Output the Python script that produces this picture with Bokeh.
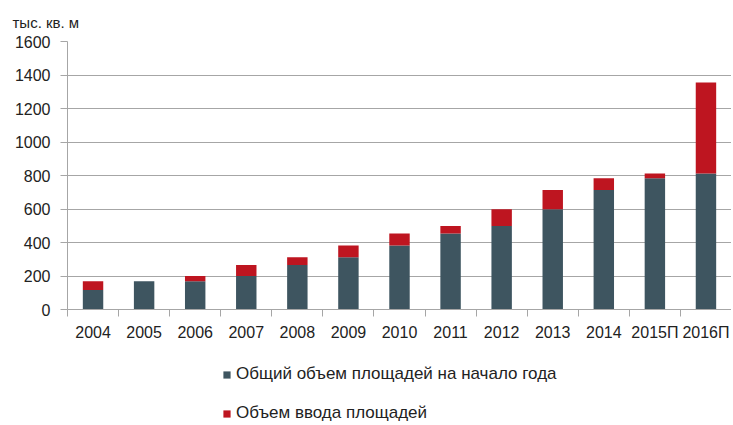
from bokeh.plotting import figure
from bokeh.layouts import column
from bokeh.models import FixedTicker, Legend, LegendItem, Range1d
from bokeh.embed import file_html
from bokeh.resources import INLINE

years = ["2004", "2005", "2006", "2007", "2008", "2009", "2010",
         "2011", "2012", "2013", "2014", "2015П", "2016П"]
base = [117, 169, 169, 200, 266, 312, 382, 454, 499, 599, 714, 784, 812]
added = [52, 0, 31, 66, 46, 70, 72, 45, 100, 115, 70, 28, 543]
y_ticks = [0, 200, 400, 600, 800, 1000, 1200, 1400, 1600]
series_names = ["Общий объем площадей на начало года", "Объем ввода площадей"]
unit_label = "тыс. кв. м"

DARK = "#3e5560"
RED = "#be1520"
GRID = "#a6a6a6"
FONT = "Liberation Sans"
TEXT = "#222222"

x = [i + 0.5 for i in range(len(years))]
total = [b + a for b, a in zip(base, added)]

p = figure(frame_width=664, frame_height=268, output_backend="svg", toolbar_location=None,
           x_range=Range1d(0, len(years)), y_range=Range1d(0, y_ticks[-1]),
           min_border_left=67, min_border_right=0, min_border_top=41,
           min_border_bottom=38)
p.outline_line_color = None

r1 = p.vbar(x=x, bottom=0, top=base, width=0.4, fill_color=DARK, line_color=None)
r2 = p.vbar(x=x, bottom=base, top=total, width=0.4, fill_color=RED, line_color=None)

p.title.text = unit_label
p.title.align = "left"
p.title.offset = -55
p.title.standoff = 18
p.title.vertical_align = "top"
p.title.text_font = FONT
p.title.text_font_size = "15px"
p.title.text_font_style = "normal"
p.title.text_color = TEXT

xa = p.xaxis[0]
xa.ticker = FixedTicker(ticks=x, minor_ticks=list(range(len(years) + 1)))
xa.major_label_overrides = {xi: y for xi, y in zip(x, years)}
xa.major_tick_line_color = None
xa.major_tick_out = 0
xa.major_tick_in = 0
xa.minor_tick_line_color = GRID
xa.minor_tick_out = 7
xa.minor_tick_in = 0
xa.axis_line_color = GRID
xa.major_label_standoff = 7
xa.major_label_text_font = FONT
xa.major_label_text_font_size = "16px"
xa.major_label_text_color = TEXT

ya = p.yaxis[0]
ya.ticker = FixedTicker(ticks=y_ticks)
ya.major_tick_line_color = GRID
ya.major_tick_out = 7
ya.major_tick_in = 0
ya.minor_tick_line_color = None
ya.axis_line_color = GRID
ya.major_label_standoff = 10
ya.major_label_text_font = FONT
ya.major_label_text_font_size = "16px"
ya.major_label_text_color = TEXT

p.xgrid.grid_line_color = None
p.ygrid.grid_line_color = GRID

# legend in its own strip below the chart; swatch renderers sit outside the view
lf = figure(width=731, height=76, output_backend="svg", toolbar_location=None,
            x_axis_location=None, y_axis_location=None,
            x_range=Range1d(-20, -19), y_range=Range1d(-20, -19),
            min_border=0)
lf.outline_line_color = None
lf.grid.grid_line_color = None
lr1 = lf.vbar(x=x[:1], top=base[:1], width=0.4, fill_color=DARK, line_color=None)
lr2 = lf.vbar(x=x[:1], top=total[:1], bottom=base[:1], width=0.4,
              fill_color=RED, line_color=None)

legend = Legend(items=[LegendItem(label=series_names[0], renderers=[lr1]),
                       LegendItem(label=series_names[1], renderers=[lr2])],
                orientation="vertical", location=(155, 0))
legend.glyph_width = 9
legend.glyph_height = 9
legend.label_text_font = FONT
legend.label_text_font_size = "17px"
legend.label_text_color = TEXT
legend.label_standoff = 5
legend.label_height = 16
legend.spacing = 19
legend.padding = 0
legend.margin = 0
legend.border_line_color = None
legend.background_fill_alpha = 0
lf.add_layout(legend)

layout = column(p, lf, spacing=0)
open("out.html", "w").write(file_html(layout, INLINE))
